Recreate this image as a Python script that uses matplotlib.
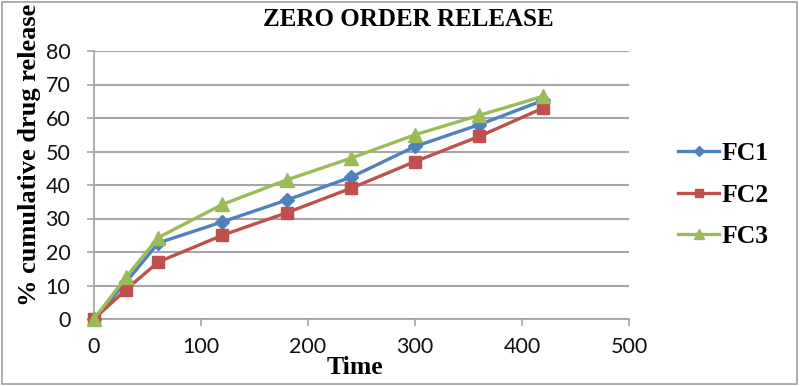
import matplotlib.pyplot as plt
from matplotlib.patches import Rectangle

time = [0, 30, 60, 120, 180, 240, 300, 360, 420]
fc1 = [0, 11, 22.7, 29, 35.5, 42.3, 51.5, 58, 65.3]
fc2 = [0, 8.8, 17, 25, 31.7, 39, 47, 54.5, 63]
fc3 = [0, 12.5, 24.3, 34.2, 41.5, 48, 55, 60.8, 66.5]

series = [
    ("FC1", fc1, "#4F81BD", "D", 7),
    ("FC2", fc2, "#C0504D", "s", 8.5),
    ("FC3", fc3, "#9BBB59", "^", 10),
]

serif = "Liberation Serif"
sans = "Lato"

fig = plt.figure(figsize=(8, 3.86), dpi=100)
ax = fig.add_axes([94 / 800, 67 / 386, 535 / 800, 268 / 386])

for name, vals, col, mk, ms in series:
    ax.plot(time, vals, color=col, lw=2.4, marker=mk, markersize=ms,
            label=name, clip_on=False, zorder=3)

ax.set_xlim(0, 500)
ax.set_ylim(0, 80)
ax.set_xticks(range(0, 501, 100))
ax.set_yticks(range(0, 81, 10))
ax.grid(axis="y", color="#A6A6A6", lw=1.5)
ax.set_axisbelow(True)
for s in ("top", "right"):
    ax.spines[s].set_visible(False)
for s in ("left", "bottom"):
    ax.spines[s].set_color("#A6A6A6")
    ax.spines[s].set_linewidth(1.3)
ax.tick_params(axis="both", direction="out", length=5, width=1.2,
               color="#A6A6A6", labelsize=15.5, labelcolor="#111111")
ax.tick_params(axis="y", pad=12)
ax.tick_params(axis="x", pad=8)
for lab in ax.get_xticklabels() + ax.get_yticklabels():
    lab.set_family(sans)

fig.text(408 / 800, 1 - 20 / 386, "ZERO ORDER RELEASE", ha="center",
         va="center", family=serif, weight="bold", fontsize=18)
fig.text(355 / 800, 1 - 367 / 386, "Time", ha="center", va="center",
         family=serif, weight="bold", fontsize=18.5)
fig.text(30 / 800, 1 - 306 / 386, "% cumulative drug release", ha="center",
         va="bottom", rotation=90, family=serif, weight="bold", fontsize=19)

leg = fig.legend(loc="upper left", bbox_to_anchor=(678 / 800, 1 - 142 / 386),
                 frameon=False, prop={"family": serif, "weight": "bold",
                                      "size": 18.5},
                 handlelength=1.6, handletextpad=0.1, labelspacing=0.72,
                 markerscale=0.75, borderaxespad=0, borderpad=0)

fig.patches.append(Rectangle((0.002, 0.004), 0.994, 0.99,
                             transform=fig.transFigure, fill=False,
                             edgecolor="#A0A0A0", lw=1.2))

fig.savefig("out.png", dpi=100)
